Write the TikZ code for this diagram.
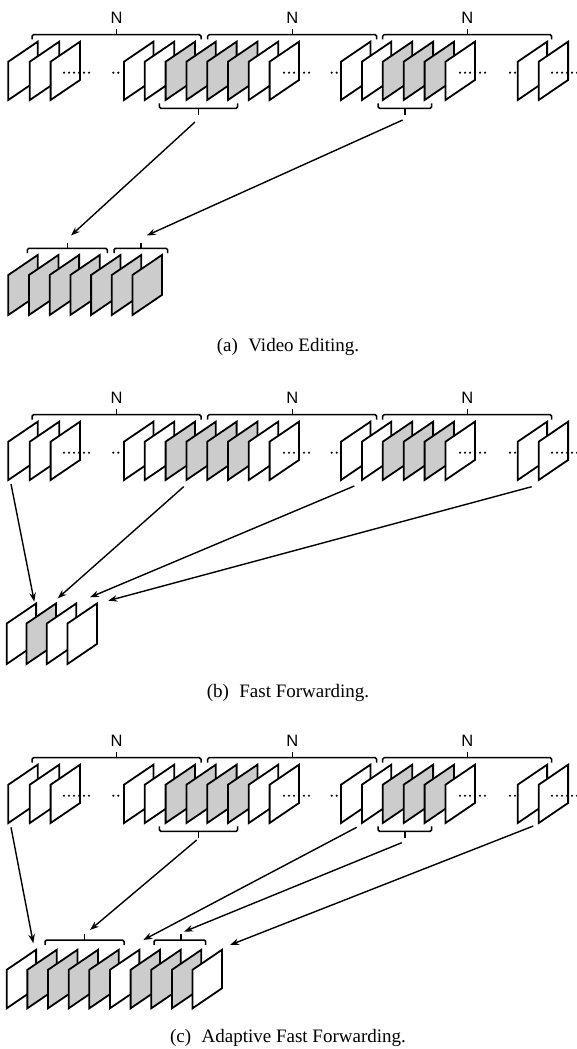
\documentclass[tikz,border=0pt]{standalone}
\usepackage{fontspec}
\setmainfont{Liberation Serif}
\newfontfamily\nfont{Liberation Sans}
\usetikzlibrary{arrows.meta}
\definecolor{fgray}{RGB}{204,204,204}
% parallelogram frame: left x, bottom-left y, fill, height
\newcommand\vfr[4]{\filldraw[frm, fill=#3] ({#1},{#2}) -- ++(0,-#4) -- ++(29.4,-20) -- ++(0,#4) -- cycle;}
% top brace: x1, x2, mid, line y
\newcommand\tbrace[4]{\draw[brk] ({#1},{#4+4.8}) -- ({#1},{#4}) -- ({#2},{#4}) -- ({#2},{#4+4.8});
  \draw[brkt] ({#3},{#4}) -- ({#3},{#4-5.7});}
% bottom brace: x1, x2, mid, line y
\newcommand\bbrace[4]{\draw[brk] ({#1},{#4-5}) -- ({#1},{#4}) -- ({#2},{#4}) -- ({#2},{#4-5});
  \draw[brkt] ({#3},{#4}) -- ({#3},{#4+6.7});}
\newcommand\toprow[1]{%
  \foreach \x in {8.3,29.8,50.6} {\vfr{\x}{100+#1}{white}{38.3}}
  \foreach \x/\c in {124/white,144.8/white,165.6/fgray,186.4/fgray,207.2/fgray,228/fgray,248.8/white,269.6/white} {\vfr{\x}{100+#1}{\c}{38.3}}
  \foreach \x/\c in {341/white,361.9/white,382.8/fgray,403.7/fgray,424.6/fgray,445.5/white} {\vfr{\x}{100+#1}{\c}{38.3}}
  \foreach \x in {517.7,538.7} {\vfr{\x}{100+#1}{white}{38.3}}
  \foreach \x in {64,69,74,79,84,89,113.3,118.3,284,289,294,299,304,309,331.7,336.7,460,465,470,475,480,485,510,515,552,557,562,567,572,577}
    {\fill ({\x},{72.7+#1}) circle (1.2pt);}
  \tbrace{32}{201}{116.7}{34.7+#1}
  \tbrace{207.7}{376.7}{292.3}{34.7+#1}
  \tbrace{382.7}{551.7}{467.3}{34.7+#1}
}
\begin{document}
\begin{tikzpicture}[x=1pt,y=-1pt,
  frm/.style={draw=black, line width=1.8pt, line join=miter},
  brk/.style={draw=black, line width=1.5pt, rounded corners=1.5pt},
  brkt/.style={draw=black, line width=1.5pt},
  arr/.style={draw=black, line width=1.4pt, -{Stealth[length=9pt,width=6.5pt]}},
  lbl/.style={font=\nfont\fontsize{16.5}{16.5}\selectfont, inner sep=0pt},
  captxt/.style={font=\fontsize{19}{19}\selectfont, inner sep=0pt}]
\useasboundingbox (0,0) rectangle (577,1049);

% ---------------- (a) Video Editing ----------------
\toprow{0}
\node[lbl] (na1) at (116.7,17.5) {N};
\node[lbl] (na2) at (292.3,17.5) {N};
\node[lbl] (na3) at (467.3,17.5) {N};
\bbrace{159.3}{237.7}{198.5}{108.3}
\bbrace{378}{431.7}{405}{108.3}
\foreach \i in {0,...,6} {\vfr{8.3+20.7*\i}{315}{fgray}{40}}
\tbrace{27.3}{107.3}{67.7}{248.3}
\tbrace{114}{167.7}{141}{248.3}
\coordinate (a1s) at (195,122);
\coordinate (a1e) at (71,235.5);
\coordinate (a2s) at (402.7,120);
\coordinate (a2e) at (146.7,235.5);
\draw[arr] (a1s) -- (a1e);
\draw[arr] (a2s) -- (a2e);
\node[captxt] (capa) at (288,347) {(a)\hspace{0.3em} Video Editing.};

% ---------------- (b) Fast Forwarding ----------------
\toprow{380}
\node[lbl] (nb1) at (116.7,397.5) {N};
\node[lbl] (nb2) at (292.3,397.5) {N};
\node[lbl] (nb3) at (467.3,397.5) {N};
\foreach \x/\c in {6.7/white,26.5/fgray,46.8/white,67.5/white} {\vfr{\x}{664}{\c}{40.5}}
\coordinate (b1s) at (11,484);
\coordinate (b1e) at (34.3,601.7);
\coordinate (b2s) at (183.7,486.7);
\coordinate (b2e) at (57.7,598.3);
\coordinate (b3s) at (354.3,486);
\coordinate (b3e) at (90,597.3);
\coordinate (b4s) at (531.7,486.7);
\coordinate (b4e) at (108.3,600.7);
\draw[arr] (b1s) -- (b1e);
\draw[arr] (b2s) -- (b2e);
\draw[arr] (b3s) -- (b3e);
\draw[arr] (b4s) -- (b4e);
\node[captxt] (capb) at (288,693) {(b)\hspace{0.3em} Fast Forwarding.};

% ---------------- (c) Adaptive Fast Forwarding ----------------
\toprow{723}
\node[lbl] (nc1) at (116.7,740.5) {N};
\node[lbl] (nc2) at (292.3,740.5) {N};
\node[lbl] (nc3) at (467.3,740.5) {N};
\bbrace{159.3}{237.7}{198.5}{831.3}
\bbrace{378}{431.7}{405}{831.3}
\foreach \c [count=\i from 0] in {white,fgray,fgray,fgray,fgray,white,fgray,fgray,fgray,white}
  {\vfr{6.7+20.65*\i}{1008.3}{\c}{38.5}}
\tbrace{45}{124}{84.5}{940}
\tbrace{154}{205.7}{181}{940}
\coordinate (c1s) at (11,827.3);
\coordinate (c1e) at (33.3,943.3);
\coordinate (c2s) at (196.7,840);
\coordinate (c2e) at (90,930);
\coordinate (c3s) at (356.7,827.3);
\coordinate (c3e) at (143.3,940);
\coordinate (c4s) at (401.7,842.7);
\coordinate (c4e) at (184,931.7);
\coordinate (c5s) at (533.3,826);
\coordinate (c5e) at (230,945);
\draw[arr] (c1s) -- (c1e);
\draw[arr] (c2s) -- (c2e);
\draw[arr] (c3s) -- (c3e);
\draw[arr] (c4s) -- (c4e);
\draw[arr] (c5s) -- (c5e);
\node[captxt] (capc) at (288,1038) {(c)\hspace{0.3em} Adaptive Fast Forwarding.};
\end{tikzpicture}
\end{document}
